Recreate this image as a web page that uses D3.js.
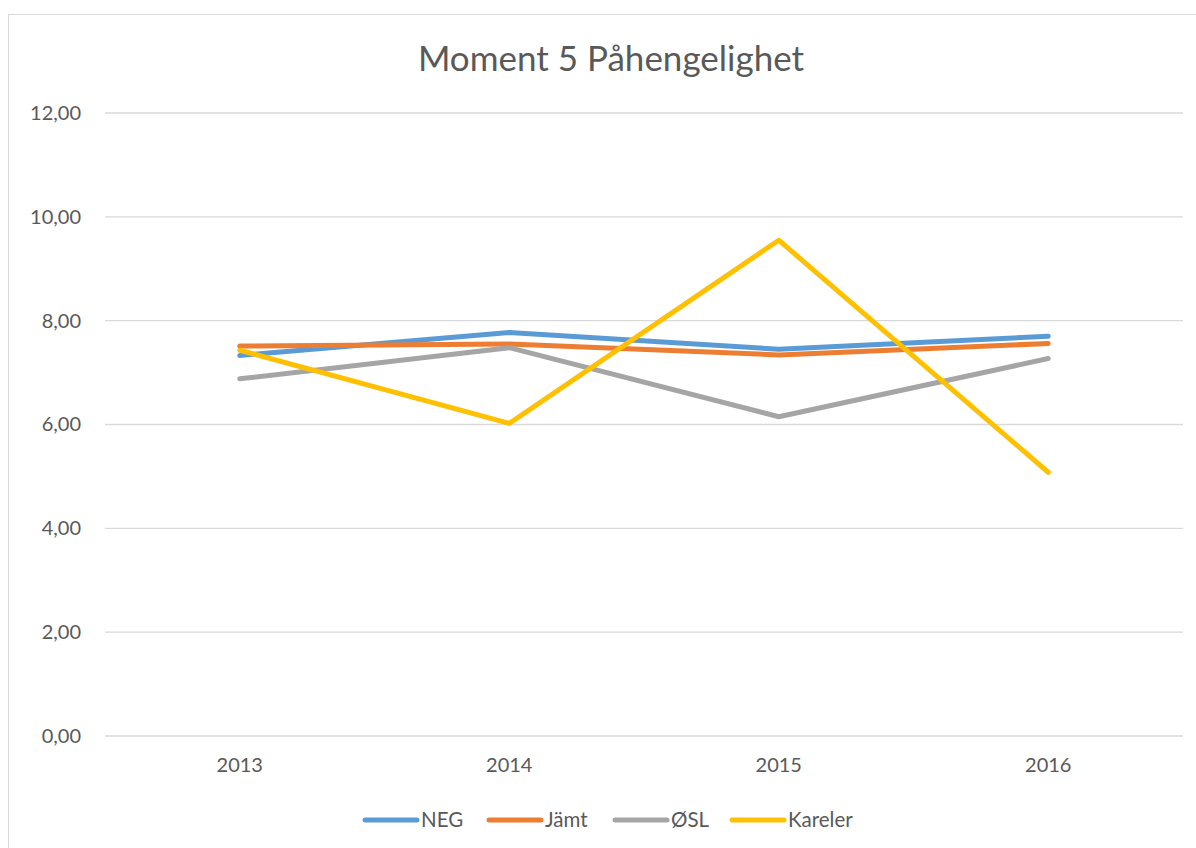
<!DOCTYPE html>
<html><head><meta charset="utf-8">
<script src="https://cdn.jsdelivr.net/npm/d3@7"></script>
<style>body{margin:0;background:#fff;} svg{display:block;font-family:Lato,"Open Sans",sans-serif;}</style>
</head><body>
<svg id="c" width="1196" height="848"></svg>
<script>
const title = "Moment 5 Påhengelighet";
const categories = ["2013","2014","2015","2016"];
const seriesNames = ["NEG","Jämt","ØSL","Kareler"];
const seriesColors = ["#5b9bd5","#ed7d31","#a5a5a5","#ffc000"];
const NEG = [7.33, 7.77, 7.45, 7.70];
const Jamt = [7.51, 7.55, 7.34, 7.56];
const OSL = [6.88, 7.48, 6.15, 7.27];
const Kareler = [7.43, 6.02, 9.55, 5.08];
const yTicks = [0,2,4,6,8,10,12];
const seriesValues = [NEG, Jamt, OSL, Kareler];

(function(){
const svg = d3.select("#c");
svg.append("rect").attr("x",8.5).attr("y",14.5).attr("width",1200).attr("height",850)
  .attr("fill","#fff").attr("stroke","#d9d9d9");

const pl=105, pr=1183, pt=113, pb=736;
const x = d3.scaleBand().domain(categories).range([pl,pr]);
const y = d3.scaleLinear().domain([0,12]).range([pb,pt]);
const fmt = v => d3.format(".2f")(v).replace(".",",");

svg.append("g").selectAll("line").data(yTicks).join("line")
  .attr("x1",pl).attr("x2",pr).attr("y1",d=>y(d)).attr("y2",d=>y(d))
  .attr("stroke","#d9d9d9").attr("stroke-width",1.3);

const yAxis = d3.axisLeft(y).tickValues(yTicks).tickFormat(fmt).tickSize(0).tickPadding(24);
svg.append("g").attr("transform",`translate(${pl},0)`).call(yAxis)
  .call(a=>a.select(".domain").remove())
  .selectAll("text").attr("font-size",20).attr("fill","#595959").attr("font-family","Lato,'Open Sans',sans-serif");

const xAxis = d3.axisBottom(x).tickSize(0).tickPadding(22);
svg.append("g").attr("transform",`translate(0,${pb})`).call(xAxis)
  .call(a=>a.select(".domain").remove())
  .selectAll("text").attr("font-size",20).attr("fill","#595959").attr("font-family","Lato,'Open Sans',sans-serif");

const line = d3.line().x((d,i)=>x(categories[i])+x.bandwidth()/2).y(d=>y(d));
seriesValues.forEach((vals,i)=>{
  svg.append("path").attr("d",line(vals)).attr("fill","none")
    .attr("stroke",seriesColors[i]).attr("stroke-width",5)
    .attr("stroke-linecap","round").attr("stroke-linejoin","round");
});

svg.append("text").attr("x",611).attr("y",71).attr("text-anchor","middle")
  .attr("font-size",35).attr("fill","#595959").text(title);

const legX = [363,487,613,730];
const lg = svg.append("g");
seriesNames.forEach((n,i)=>{
  lg.append("line").attr("x1",legX[i]+2).attr("x2",legX[i]+54).attr("y1",820).attr("y2",820)
    .attr("stroke",seriesColors[i]).attr("stroke-width",5).attr("stroke-linecap","round");
  lg.append("text").attr("x",legX[i]+58).attr("y",827).attr("font-size",20.5)
    .attr("fill","#595959").text(n);
});
})();
</script>
</body></html>
